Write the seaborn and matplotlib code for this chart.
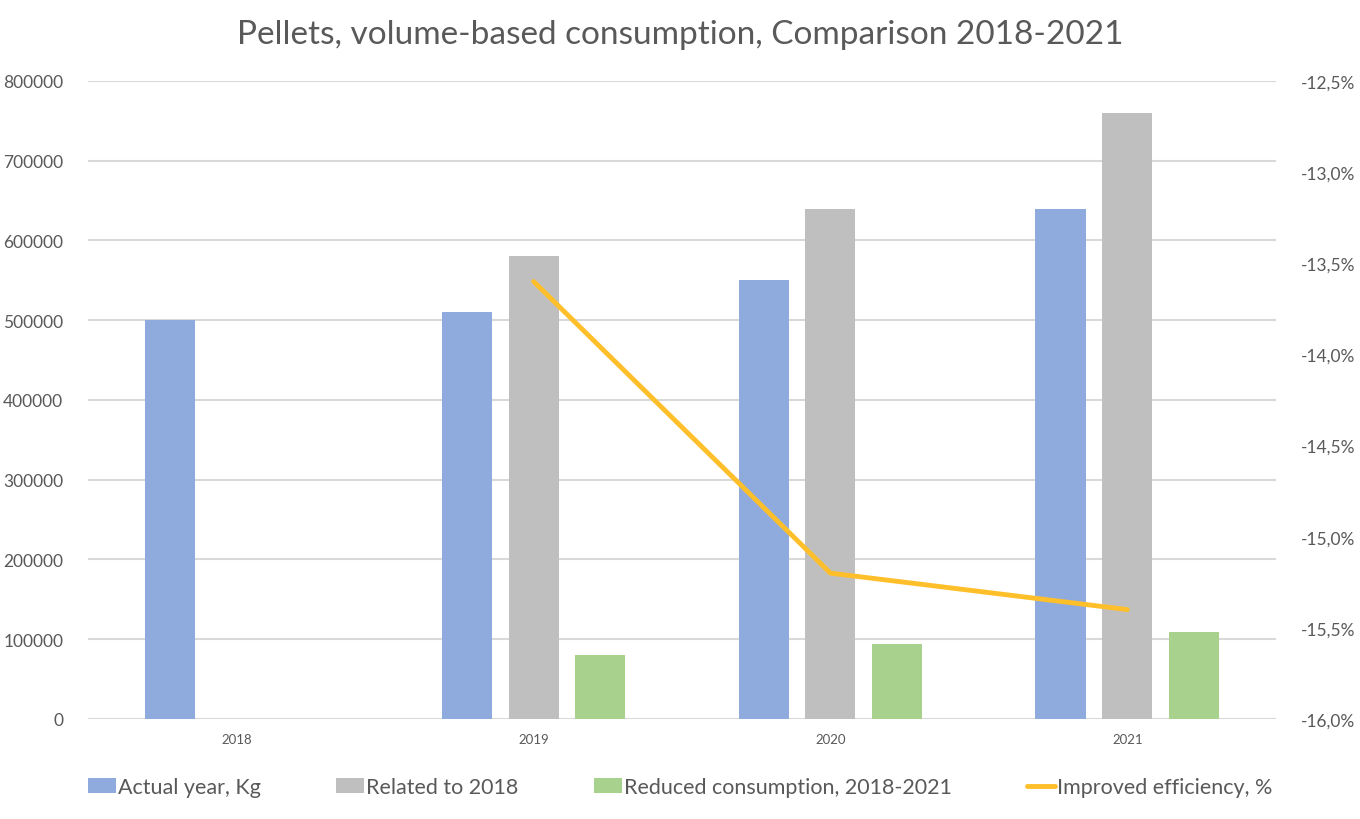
import matplotlib
matplotlib.use("Agg")
import matplotlib.pyplot as plt
import seaborn as sns
import pandas as pd
from matplotlib.ticker import FuncFormatter, MultipleLocator
from matplotlib.patches import Patch
from matplotlib.lines import Line2D

years = ["2018", "2019", "2020", "2021"]
actual_kg = [500000, 510000, 550000, 640000]
related_2018 = [None, 580000, 640000, 760000]
reduced = [None, 80000, 94000, 109000]
eff_years = ["2019", "2020", "2021"]
efficiency = [-13.6, -15.2, -15.4]

series_names = ["Actual year, Kg", "Related to 2018", "Reduced consumption, 2018-2021"]
line_name = "Improved efficiency, %"
colors = ["#8FAADC", "#BFBFBF", "#A9D18E"]
line_color = "#FFBF2B"

rows = []
for name, vals in zip(series_names, [actual_kg, related_2018, reduced]):
    for y, v in zip(years, vals):
        if v is not None:
            rows.append({"year": y, "series": name, "value": v})
df = pd.DataFrame(rows)

sns.set_theme(style="white")
plt.rcParams["font.family"] = ["Lato", "DejaVu Sans"]

fig = plt.figure(figsize=(13.6, 8.2), dpi=100)
ax = fig.add_axes([0.065, 0.122, 0.873, 0.778])

sns.barplot(data=df, x="year", y="value", hue="series", order=years,
            hue_order=series_names, palette=colors, width=0.675, gap=0.25,
            saturation=1, ax=ax, legend=False, errorbar=None, linewidth=0)

ax.set_ylim(0, 800000)
ax.yaxis.set_major_locator(MultipleLocator(100000))
ax.grid(axis="y", color="#D9D9D9", linewidth=1.5)
ax.set_axisbelow(True)
for s in ax.spines.values():
    s.set_visible(False)
ax.set_xlabel("")
ax.set_ylabel("")
ax.tick_params(axis="y", labelsize=12.5, colors="#595959", length=0, pad=18)
ax.tick_params(axis="x", labelsize=9.5, colors="#595959", length=0, pad=10)
ax.set_xlim(-0.5, 3.5)

ax2 = ax.twinx()
eff_x = [years.index(y) for y in eff_years]
sns.lineplot(x=eff_x, y=efficiency, ax=ax2, color=line_color, linewidth=3.5,
             solid_capstyle="round")
ax2.set_ylim(-16.0, -12.5)
ax2.yaxis.set_major_locator(MultipleLocator(0.5))
ax2.yaxis.set_major_formatter(FuncFormatter(lambda v, p: f"{v:.1f}%".replace(".", ",").replace("\u2212", "-")))
ax2.tick_params(axis="y", labelsize=12.5, colors="#595959", length=0, pad=18)
for s in ax2.spines.values():
    s.set_visible(False)
ax2.grid(False)
ax2.set_xlim(-0.5, 3.5)

fig.suptitle("Pellets, volume-based consumption, Comparison 2018-2021",
             x=0.5, y=0.975, fontsize=24, color="#595959")

handles = [Patch(facecolor=c, edgecolor="none") for c in colors]
handles.append(Line2D([0], [0], color=line_color, linewidth=3.5))
fig.legend(handles, series_names + [line_name], loc="lower center",
           bbox_to_anchor=(0.5, 0.003), ncol=4, frameon=False, fontsize=15.5,
           labelcolor="#595959", handlelength=1.3, handletextpad=0.1,
           columnspacing=3.5)

fig.savefig("out.png", dpi=100)
